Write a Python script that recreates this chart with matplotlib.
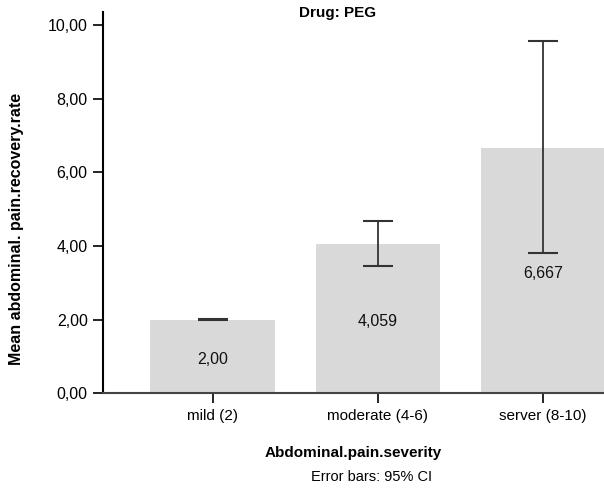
import numpy as np
import matplotlib
matplotlib.use('Agg')
import matplotlib.pyplot as plt

plt.rcParams['font.family'] = ['Liberation Sans', 'DejaVu Sans']

categories = ['mild (2)', 'moderate (4-6)', 'server (8-10)']
means = [2.00, 4.059, 6.667]
ci_low = [2.00, 3.46, 3.80]
ci_high = [2.02, 4.68, 9.57]
mean_labels = ['2,00', '4,059', '6,667']
yticks = [0, 2, 4, 6, 8, 10]
ytick_labels = ['0,00', '2,00', '4,00', '6,00', '8,00', '10,00']

fig = plt.figure(figsize=(6.04, 4.88), dpi=100)
ax = fig.add_axes([103 / 604, 1 - 393.3 / 488, 1 - 103 / 604, (393.3 - 12) / 488])

x = np.arange(len(categories))
means = np.array(means)
err = np.array([means - np.array(ci_low), np.array(ci_high) - means])

ax.bar(x, means, width=0.755, color='#d9d9d9', zorder=1)
ax.errorbar(x, means, yerr=err, fmt='none', ecolor='#333333', elinewidth=1.3,
            capsize=10.5, capthick=1.5, zorder=2)

for xi, m, lab in zip(x, means, mean_labels):
    ax.text(xi, m / 2 - 0.07, lab, ha='center', va='center', fontsize=11.5, color='#111111')

ax.set_xlim(-0.665, 2.37)
ax.set_ylim(0, 10.35)
ax.set_xticks(x)
ax.set_xticklabels(categories, fontsize=11)
ax.set_yticks(yticks)
ax.set_yticklabels(ytick_labels, fontsize=11.5)

for s in ['top', 'right']:
    ax.spines[s].set_visible(False)
ax.spines['left'].set_linewidth(1.5)
ax.spines['bottom'].set_linewidth(1.5)
ax.spines['bottom'].set_color('#444444')
ax.tick_params(axis='both', length=7, width=1.2, pad=4)

ax.set_ylabel('Mean abdominal. pain.recovery.rate', fontsize=11.5, fontweight='bold')
ax.yaxis.set_label_coords(-(103 - 24) / 501, 0.43)
ax.set_xlabel('Abdominal.pain.severity', fontsize=11, fontweight='bold', labelpad=17)
fig.text(372 / 604, 1 - 477 / 488, 'Error bars: 95% CI', ha='center', va='center', fontsize=10.5)
fig.text(338 / 604, 1 - 13 / 488, 'Drug: PEG', ha='center', va='center', fontsize=11, fontweight='bold')

fig.savefig('out.png', dpi=100)
